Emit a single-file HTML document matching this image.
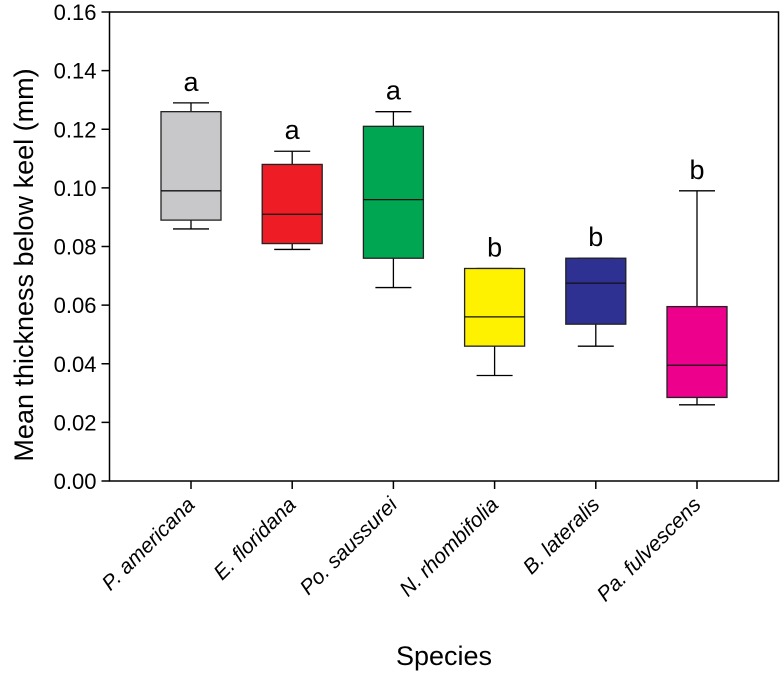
<!DOCTYPE html>
<html><head><meta charset="utf-8"><style>
body{margin:0;background:#fff}
svg{display:block;font-family:"Liberation Sans",Arial,sans-serif}
</style></head><body>
<svg id="c" width="784" height="674"></svg>
<script>
const categories=["P. americana","E. floridana","Po. saussurei","N. rhombifolia","B. lateralis","Pa. fulvescens"];
const whiskerMax=[0.129,0.1125,0.126,0.0725,0.076,0.099];
const q3=[0.126,0.108,0.121,0.0725,0.076,0.0595];
const medians=[0.099,0.091,0.096,0.056,0.0675,0.0395];
const q1=[0.089,0.081,0.076,0.046,0.0535,0.0285];
const whiskerMin=[0.086,0.079,0.066,0.036,0.046,0.026];
const groupLetters=["a","a","a","b","b","b"];
const colors=["#c8c8ca","#ee1c25","#00a651","#fff200","#2e3192","#ec008c"];
const yTicks=[0,0.02,0.04,0.06,0.08,0.10,0.12,0.14,0.16];

const L=109.5,R=778.5,T=12,B=481,ymax=0.16,pad=81.5;
const y=v=>B-(v/ymax)*(B-T);
const step=(R-L-2*pad)/(categories.length-1);
const x=i=>L+pad+i*step;
const bw=60;
const svg=document.getElementById('c');
const NS="http://www.w3.org/2000/svg";
function mk(t,a,p){const e=document.createElementNS(NS,t);for(const k in a)e.setAttribute(k,a[k]);(p||svg).appendChild(e);return e;}

const frame=mk('rect',{x:L,y:T,width:R-L,height:B-T,fill:'none',stroke:'#000','stroke-width':1.5});



yTicks.forEach(v=>{
  const t=mk('line',{x1:L-8,x2:L,y1:y(v),y2:y(v),stroke:'#000','stroke-width':1.5});
  
  
  const tx=mk('text',{x:L-13,y:y(v)+8,'text-anchor':'end','font-size':22});
  tx.textContent=v.toFixed(2);
  
  
});

categories.forEach((c,i)=>{
  const cx=x(i);
  const g=mk('g',{});
  
  
  mk('line',{x1:cx,x2:cx,y1:y(whiskerMax[i]),y2:y(q3[i]),stroke:'#000','stroke-width':1.3},g);
  mk('line',{x1:cx,x2:cx,y1:y(q1[i]),y2:y(whiskerMin[i]),stroke:'#000','stroke-width':1.3},g);
  mk('line',{x1:cx-18,x2:cx+18,y1:y(whiskerMax[i]),y2:y(whiskerMax[i]),stroke:'#000','stroke-width':1.3},g);
  mk('line',{x1:cx-18,x2:cx+18,y1:y(whiskerMin[i]),y2:y(whiskerMin[i]),stroke:'#000','stroke-width':1.3},g);
  mk('rect',{x:cx-bw/2,y:y(q3[i]),width:bw,height:y(q1[i])-y(q3[i]),fill:colors[i],stroke:'#222','stroke-width':1.3},g);
  mk('line',{x1:cx-bw/2,x2:cx+bw/2,y1:y(medians[i]),y2:y(medians[i]),stroke:'#111','stroke-width':1.3},g);
  const lt=mk('text',{x:cx,y:y(whiskerMax[i])-12,'text-anchor':'middle','font-size':27});
  lt.textContent=groupLetters[i];
  
  
  const tk=mk('line',{x1:cx,x2:cx,y1:B,y2:B+8,stroke:'#000','stroke-width':1.5});
  
  
  const xl=mk('text',{x:cx+5,y:B+25,'text-anchor':'end','font-size':21,'font-style':'italic',transform:`rotate(-45 ${cx+5} ${B+25})`});
  xl.textContent=c;
  
  
});

const yt=mk('text',{x:0,y:0,'text-anchor':'middle','font-size':27,transform:`translate(33 265) rotate(-90)`});
yt.textContent="Mean thickness below keel (mm)";


const xt=mk('text',{x:444,y:665,'text-anchor':'middle','font-size':27});
xt.textContent="Species";


</script>
</body></html>
